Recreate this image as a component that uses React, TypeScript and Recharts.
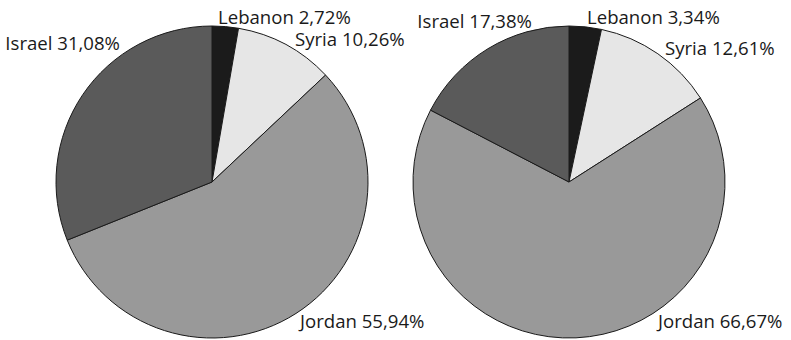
import { PieChart, Pie, Cell } from "recharts";

const countries = ["Lebanon", "Syria", "Jordan", "Israel"];
const leftValues = [2.72, 10.26, 55.94, 31.08];
const rightValues = [3.34, 12.61, 66.67, 17.38];
const sliceColors = ["#1b1b1b", "#e6e6e6", "#999999", "#5a5a5a"];

// label placement relative to each pie's centre: [dx, dy, anchor]
const leftLabelPos: [number, number, "start" | "end"][] = [
  [6, -158, "start"],
  [83, -136, "start"],
  [88, 146, "start"],
  [-92, -132, "end"],
];
const rightLabelPos: [number, number, "start" | "end"][] = [
  [18, -158, "start"],
  [96, -127, "start"],
  [89, 146, "start"],
  [-37, -154, "end"],
];

const fmt = (v: number) => v.toFixed(2).replace(".", ",") + "%";

function makeData(values: number[]) {
  return countries.map((name, i) => ({ name, value: values[i] }));
}

function makeLabel(pos: [number, number, "start" | "end"][]) {
  return (props: any) => {
    const { cx, cy, index, name, value } = props;
    const [dx, dy, anchor] = pos[index];
    return (
      <text
        x={cx + dx}
        y={cy + dy}
        textAnchor={anchor}
        fill="#1a1a1a"
        fontSize={18.6}
        fontFamily="'Open Sans', sans-serif"
      >
        {`${name} ${fmt(value)}`}
      </text>
    );
  };
}

export default function App() {
  const pies = [
    { key: "left", data: makeData(leftValues), cx: 212, pos: leftLabelPos },
    { key: "right", data: makeData(rightValues), cx: 569, pos: rightLabelPos },
  ];
  return (
    <div style={{ position: "absolute", left: 0, top: 0, background: "#fff" }}>
      <PieChart
        width={791}
        height={340}
        margin={{ top: 0, right: 0, bottom: 0, left: 0 }}
      >
        {pies.map((p) => (
          <Pie
            key={p.key}
            data={p.data}
            dataKey="value"
            nameKey="name"
            cx={p.cx}
            cy={182}
            outerRadius={156}
            startAngle={90}
            endAngle={-270}
            stroke="#1a1a1a"
            strokeWidth={1}
            label={makeLabel(p.pos)}
            labelLine={false}
            isAnimationActive={false}
          >
            {p.data.map((d, i) => (
              <Cell key={d.name} fill={sliceColors[i]} />
            ))}
          </Pie>
        ))}
      </PieChart>
    </div>
  );
}
